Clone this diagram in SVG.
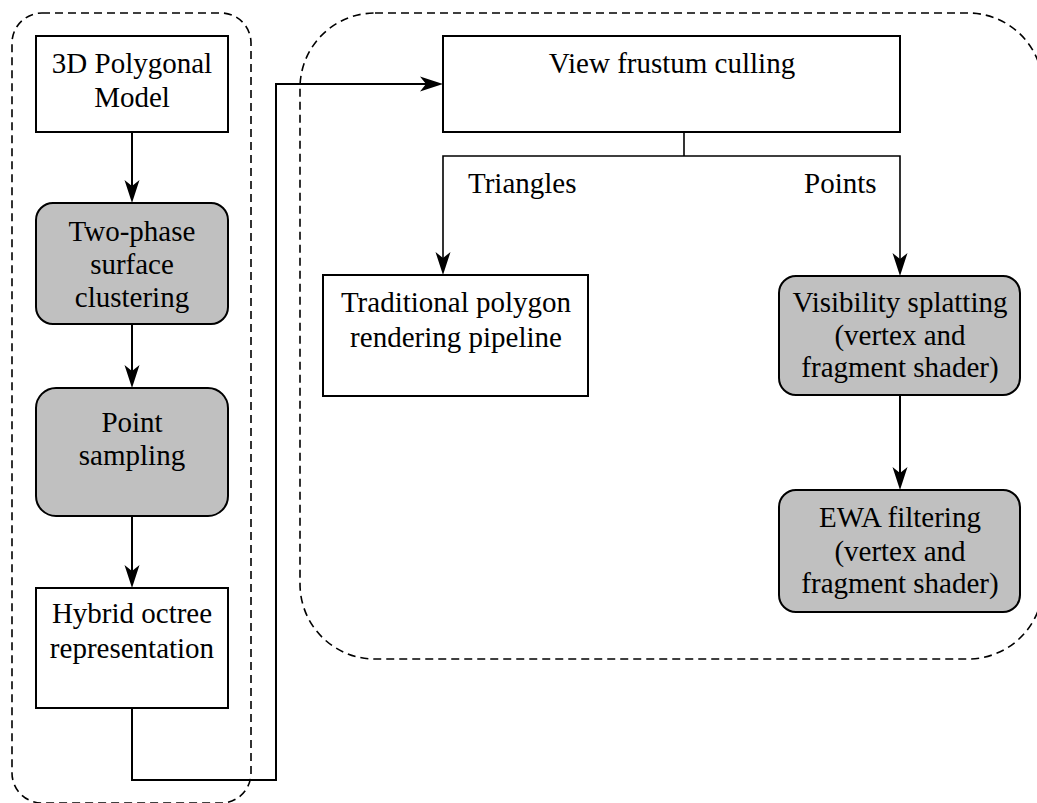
<svg xmlns="http://www.w3.org/2000/svg" width="1037" height="803" viewBox="0 0 1037 803">
<style>
.box{fill:#fff;stroke:#000;stroke-width:2}
.gbox{fill:#c0c0c0;stroke:#000;stroke-width:2}
.dash{fill:none;stroke:#000;stroke-width:1.6;stroke-dasharray:8 5}
.ln{fill:none;stroke:#000;stroke-width:2}
.thin{fill:none;stroke:#000;stroke-width:1.6}
.t{font-family:'Liberation Serif','DejaVu Serif',serif;font-size:29px;fill:#000}
.c{text-anchor:middle}
</style>
<defs>
<marker id="arr" markerUnits="userSpaceOnUse" markerWidth="30" markerHeight="20" viewBox="-25 -10 30 20" refX="-8" refY="0" orient="auto">
<path d="M0,0 L-23,-7.5 L-17,0 L-23,7.5 Z" fill="#000"/>
</marker>
</defs>
<g id="containers">
<rect class="dash" x="12" y="13" width="239" height="790" rx="30"/>
<rect class="dash" x="300" y="13" width="743" height="646" rx="75"/>
</g>
<g id="connectors">
<path class="ln" d="M132,132 V195" marker-end="url(#arr)"/>
<path class="ln" d="M132,324 V380" marker-end="url(#arr)"/>
<path class="ln" d="M132,516 V580" marker-end="url(#arr)"/>
<path class="ln" d="M132,708 V780 H276 V84 H435" marker-end="url(#arr)"/>
<path class="thin" d="M684,132 V156"/>
<path class="thin" d="M684,156 H443 V267" marker-end="url(#arr)"/>
<path class="thin" d="M684,156 H900 V268" marker-end="url(#arr)"/>
<path class="ln" d="M900,395 V482" marker-end="url(#arr)"/>
<text class="t" font-family="Liberation Serif, serif" x="468" y="193">Triangles</text>
<text class="t" font-family="Liberation Serif, serif" x="804" y="193">Points</text>
</g>
<g id="n1" class="t" font-family="Liberation Serif, serif">
<rect class="box" x="36" y="36" width="192" height="96"/>
<text class="c" x="132" y="73">3D Polygonal</text>
<text class="c" x="132" y="107">Model</text>
</g>
<g id="n2" class="t" font-family="Liberation Serif, serif">
<rect class="gbox" x="36" y="203" width="192" height="121" rx="17"/>
<text class="c" x="132" y="241">Two-phase</text>
<text class="c" x="132" y="274">surface</text>
<text class="c" x="132" y="307">clustering</text>
</g>
<g id="n3" class="t" font-family="Liberation Serif, serif">
<rect class="gbox" x="36" y="388" width="192" height="128" rx="20"/>
<text class="c" x="132" y="432">Point</text>
<text class="c" x="132" y="465">sampling</text>
</g>
<g id="n4" class="t" font-family="Liberation Serif, serif">
<rect class="box" x="36" y="588" width="192" height="120"/>
<text class="c" x="132" y="623">Hybrid octree</text>
<text class="c" x="132" y="658">representation</text>
</g>
<g id="n5" class="t" font-family="Liberation Serif, serif">
<rect class="box" x="443" y="36" width="457" height="96"/>
<text class="c" x="672" y="73">View frustum culling</text>
</g>
<g id="n6" class="t" font-family="Liberation Serif, serif">
<rect class="box" x="323" y="275" width="265" height="121"/>
<text class="c" x="456" y="312">Traditional polygon</text>
<text class="c" x="456" y="347">rendering pipeline</text>
</g>
<g id="n7" class="t" font-family="Liberation Serif, serif">
<rect class="gbox" x="779" y="276" width="241" height="119" rx="17"/>
<text class="c" x="900" y="312">Visibility splatting</text>
<text class="c" x="900" y="345">(vertex and</text>
<text class="c" x="900" y="377">fragment shader)</text>
</g>
<g id="n8" class="t" font-family="Liberation Serif, serif">
<rect class="gbox" x="779" y="490" width="241" height="122" rx="17"/>
<text class="c" x="900" y="527">EWA filtering</text>
<text class="c" x="900" y="561">(vertex and</text>
<text class="c" x="900" y="593">fragment shader)</text>
</g>
</svg>
